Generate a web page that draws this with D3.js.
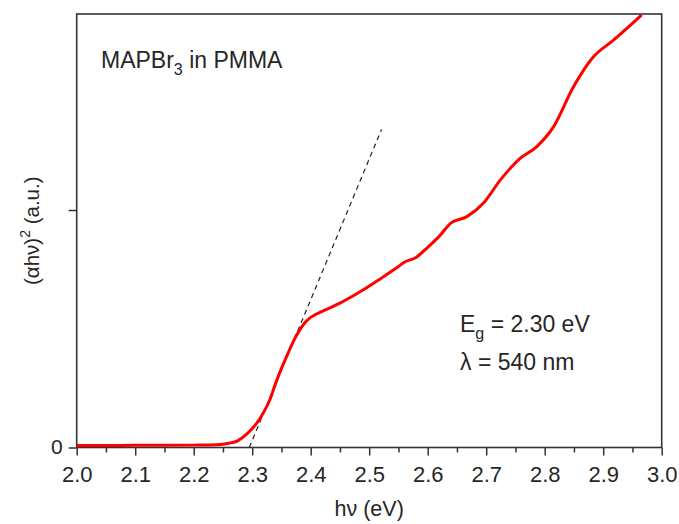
<!DOCTYPE html>
<html><head><meta charset="utf-8">
<script src="https://cdn.jsdelivr.net/npm/d3@7"></script>
<style>body{margin:0;background:#fff}svg{display:block}</style>
</head><body><svg id="c" width="679" height="524"></svg>
<script>
// photon energy (eV) and (alpha h nu)^2 in arbitrary units
const energy = [2.00, 2.05, 2.10, 2.15, 2.20, 2.24, 2.26, 2.275, 2.29, 2.30, 2.31, 2.32, 2.33, 2.34, 2.35, 2.36, 2.37, 2.38, 2.39, 2.40, 2.41, 2.43, 2.45, 2.47, 2.49, 2.52, 2.55, 2.56, 2.58, 2.60, 2.62, 2.64, 2.667, 2.695, 2.724, 2.758, 2.786, 2.815, 2.849, 2.883, 2.917, 2.966];
const absorb = [0.008, 0.008, 0.009, 0.009, 0.010, 0.012, 0.018, 0.028, 0.055, 0.080, 0.110, 0.150, 0.200, 0.270, 0.333, 0.390, 0.445, 0.490, 0.525, 0.548, 0.562, 0.585, 0.608, 0.635, 0.664, 0.712, 0.762, 0.780, 0.800, 0.843, 0.890, 0.946, 0.972, 1.028, 1.126, 1.217, 1.266, 1.350, 1.518, 1.644, 1.714, 1.822];
// linear extrapolation of the absorption edge
const fitEnergy = [2.295, 2.521];
const fitValue = [0, 1.339];
const xTicks = [2.0, 2.1, 2.2, 2.3, 2.4, 2.5, 2.6, 2.7, 2.8, 2.9, 3.0];
const xMinorTicks = [2.05, 2.15, 2.25, 2.35, 2.45, 2.55, 2.65, 2.75, 2.85, 2.95];
const yTicks = [0, 1];
const yTickLabels = ["0", ""];

const L = 76.7, R = 661.7, T = 14, B = 447.5;
const font = "'Liberation Sans', Arial, sans-serif";
const ink = "#333";
const txt = "#262626";
const svg = d3.select("#c");
const x = d3.scaleLinear().domain([2.0, 3.0]).range([L, R]);
const y = d3.scaleLinear().domain([0, 1]).range([B, 210]);

svg.append("defs").append("clipPath").attr("id", "clip")
  .append("rect").attr("x", L).attr("y", T).attr("width", R - L).attr("height", B - T);

// minor x ticks
const gMin = svg.append("g").attr("transform", `translate(0,${B})`)
  .call(d3.axisBottom(x).tickValues(xMinorTicks).tickSize(5).tickSizeOuter(0).tickFormat(""));
gMin.select(".domain").remove();
gMin.selectAll("line").attr("stroke", ink).attr("stroke-width", 1.5);

// major x ticks
const gx = svg.append("g").attr("transform", `translate(0,${B})`)
  .call(d3.axisBottom(x).tickValues(xTicks).tickSize(8).tickSizeOuter(0).tickFormat(d3.format(".1f")));
gx.select(".domain").remove();
gx.selectAll("line").attr("stroke", ink).attr("stroke-width", 1.5);
gx.selectAll("text").attr("y", 19).attr("dy", "0.71em")
  .attr("font-family", font).attr("font-size", 22).attr("fill", txt);

// y ticks
const gy = svg.append("g").attr("transform", `translate(${L},0)`)
  .call(d3.axisLeft(y).tickValues(yTicks).tickSize(8).tickSizeOuter(0).tickFormat((d, i) => yTickLabels[i]));
gy.select(".domain").remove();
gy.selectAll("line").attr("stroke", ink).attr("stroke-width", 1.5);
gy.selectAll("text").attr("x", -14).attr("dy", "0.28em")
  .attr("font-family", font).attr("font-size", 21).attr("fill", txt);

// frame
svg.append("rect").attr("x", L).attr("y", T).attr("width", R - L).attr("height", B - T)
  .attr("fill", "none").attr("stroke", ink).attr("stroke-width", 1.6);

// dashed fit line
svg.append("path")
  .datum(fitEnergy.map((e, i) => [e, fitValue[i]]))
  .attr("d", d3.line().x(d => x(d[0])).y(d => y(d[1])))
  .attr("fill", "none").attr("stroke", "#222").attr("stroke-width", 1.2)
  .attr("stroke-dasharray", "5,4");

// data curve
svg.append("path")
  .datum(energy.map((e, i) => [e, absorb[i]]))
  .attr("clip-path", "url(#clip)")
  .attr("d", d3.line().curve(d3.curveMonotoneX).x(d => x(d[0])).y(d => y(d[1])))
  .attr("fill", "none").attr("stroke", "#ff0000").attr("stroke-width", 3)
  .attr("stroke-linejoin", "round");

// annotations
const t1 = svg.append("text").attr("x", 101).attr("y", 68)
  .attr("font-family", font).attr("font-size", 23).attr("fill", txt);
t1.append("tspan").text("MAPBr");
t1.append("tspan").attr("font-size", 16).attr("dy", 7).text("3");
t1.append("tspan").attr("dy", -7).text(" in PMMA");

const t2 = svg.append("text").attr("x", 460).attr("y", 332)
  .attr("font-family", font).attr("font-size", 23).attr("fill", txt);
t2.append("tspan").text("E");
t2.append("tspan").attr("font-size", 16).attr("dy", 7).text("g");
t2.append("tspan").attr("dy", -7).text(" = 2.30 eV");

svg.append("text").attr("x", 460).attr("y", 370)
  .attr("font-family", font).attr("font-size", 23).attr("fill", txt)
  .text("λ = 540 nm");

// axis titles
svg.append("text").attr("x", (L + R) / 2).attr("y", 516).attr("text-anchor", "middle")
  .attr("font-family", font).attr("font-size", 21.5).attr("fill", txt)
  .text("hν (eV)");

const yt = svg.append("text").attr("transform", `translate(39,${(T + B) / 2}) rotate(-90)`)
  .attr("text-anchor", "middle")
  .attr("font-family", font).attr("font-size", 20.5).attr("fill", txt);
yt.append("tspan").text("(αhν)");
yt.append("tspan").attr("font-size", 14).attr("dy", -9).text("2");
yt.append("tspan").attr("dy", 9).text(" (a.u.)");
</script></body></html>
